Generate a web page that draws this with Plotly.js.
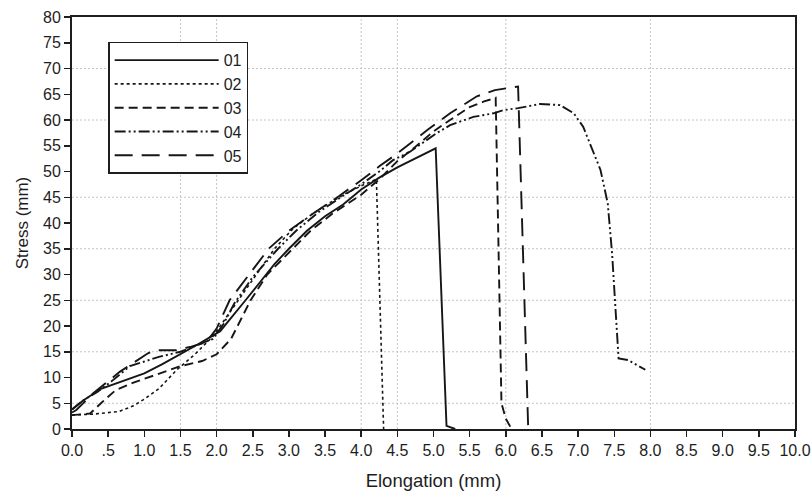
<!DOCTYPE html>
<html>
<head>
<meta charset="utf-8">
<script src="https://cdn.plot.ly/plotly-3.0.1.min.js"></script>
<style>html,body{margin:0;padding:0;background:#fff;}#chart{width:812px;height:503px;}</style>
</head>
<body>
<div id="chart"></div>
<script>
// Series names
const seriesNames = ["01", "02", "03", "04", "05"];

// Elongation (mm) / Stress values
const x01 = [0, 0.15, 0.4, 0.7, 1.0, 1.25, 1.5, 1.75, 2.05, 2.2, 2.4, 2.6, 2.8, 3.0, 3.25, 3.5, 3.75, 4.0, 4.25, 4.5, 4.75, 5.03, 5.18, 5.3];
const y01 = [3.8, 5.5, 7.8, 9.3, 10.8, 12.6, 14.5, 16.5, 19, 21.5, 25, 28.5, 32, 35, 38.5, 41.3, 43.6, 46.5, 48.8, 50.8, 52.6, 54.5, 0.6, 0];

const x02 = [0, 0.3, 0.65, 0.85, 1.0, 1.2, 1.45, 1.7, 1.95, 2.1, 2.3, 2.55, 2.8, 3.05, 3.3, 3.55, 3.8, 4.0, 4.21, 4.31];
const y02 = [2.7, 2.9, 3.4, 4.5, 5.8, 7.8, 11.5, 14.5, 18, 21, 25, 30, 35, 38.8, 41.5, 43.8, 45.8, 47.2, 48.5, 0];

const x03 = [0, 0.25, 0.4, 0.6, 0.85, 1.1, 1.35, 1.5, 1.8, 2.0, 2.2, 2.35, 2.47, 2.7, 3.05, 3.3, 3.6, 4.0, 4.25, 4.5, 4.75, 5.0, 5.25, 5.5, 5.7, 5.86, 5.94, 6.0, 6.08];
const y03 = [2.7, 3.0, 5.0, 7.5, 9.0, 10.2, 11.5, 12.2, 13.2, 14.5, 17.5, 21.5, 25, 30, 35, 38.5, 41.8, 45.5, 48.5, 52, 54.8, 57.8, 60.2, 62.5, 63.6, 64.3, 5, 2, 0];

const x04 = [0, 0.15, 0.35, 0.55, 0.8, 1.2, 1.5, 1.8, 1.95, 2.1, 2.25, 2.5, 2.85, 3.1, 3.4, 3.75, 4.0, 4.25, 4.44, 4.67, 5.05, 5.23, 5.55, 5.83, 5.96, 6.17, 6.47, 6.75, 6.94, 7.07, 7.31, 7.41, 7.47, 7.51, 7.56, 7.69, 7.93];
const y04 = [3.8, 5.5, 7.2, 9.3, 12.2, 14.0, 15.0, 16.7, 17.5, 20.5, 24.5, 29.5, 35, 38.5, 42, 45.3, 47.5, 50, 52.2, 53.8, 57.5, 59, 60.6, 61.3, 61.9, 62.3, 63.1, 62.9, 61.3, 58.7, 50.3, 43.8, 34.1, 25, 13.7, 13.4, 11.5];

const x05 = [0, 0.06, 0.29, 0.66, 1.05, 1.16, 1.44, 1.65, 1.86, 2.0, 2.18, 2.45, 2.72, 3.0, 3.3, 3.69, 4.0, 4.25, 4.5, 4.91, 5.23, 5.6, 5.85, 6.03, 6.17, 6.31];
const y05 = [3.2, 3.7, 6.9, 11.1, 14.7, 15.3, 15.3, 16.0, 16.9, 19.5, 25, 30, 35, 38.5, 41.5, 45.2, 48.3, 51, 53.5, 58, 61.3, 64.6, 65.8, 66.2, 66.5, 0];

// Tick labels
const xTickVals = [0, 0.5, 1, 1.5, 2, 2.5, 3, 3.5, 4, 4.5, 5, 5.5, 6, 6.5, 7, 7.5, 8, 8.5, 9, 9.5, 10];
const xTickText = ["0.0", ".5", "1.0", "1.5", "2.0", "2.5", "3.0", "3.5", "4.0", "4.5", "5.0", "5.5", "6.0", "6.5", "7.0", "7.5", "8.0", "8.5", "9.0", "9.5", "10.0"];
const yTickVals = [0, 5, 10, 15, 20, 25, 30, 35, 40, 45, 50, 55, 60, 65, 70, 75, 80];
// faint grid positions visible in the scan
const xGridVals = [1.5, 2, 4, 4.5, 6, 8];
const yGridVals = [5, 15, 25, 35, 45, 60, 70];

const xs = [x01, x02, x03, x04, x05];
const ys = [y01, y02, y03, y04, y05];
const dashes = ["solid", "dot", "9px,5px", "11px,3px,2px,3px,2px,3px", "18px,9px"];
const widths = [1.9, 1.6, 1.9, 1.9, 1.9];

const traces = seriesNames.map((n, i) => ({
  type: "scatter", mode: "lines", name: n,
  x: xs[i], y: ys[i],
  line: {color: "#161616", width: widths[i], dash: dashes[i]}
}));

const shapes = [];
xGridVals.forEach(v => shapes.push({
  type: "line", xref: "x", yref: "paper", x0: v, x1: v, y0: 0, y1: 1, layer: "below",
  line: {color: "#c4c4c4", width: 1, dash: "2px,2px"}
}));
yGridVals.forEach(v => shapes.push({
  type: "line", xref: "paper", yref: "y", x0: 0, x1: 1, y0: v, y1: v, layer: "below",
  line: {color: "#c4c4c4", width: 1, dash: "2px,2px"}
}));

const font = "Liberation Sans, Arial, sans-serif";
const ink = "#1e1e1e";
const layout = {
  width: 812, height: 503,
  margin: {l: 72, r: 17, t: 17, b: 74},
  paper_bgcolor: "#ffffff", plot_bgcolor: "#ffffff",
  font: {family: font, color: ink, size: 15},
  showlegend: true,
  shapes: shapes,
  legend: {
    x: 0.05, y: 0.94, xanchor: "left", yanchor: "top",
    bgcolor: "#ffffff", bordercolor: ink, borderwidth: 1.5,
    font: {family: font, size: 16, color: ink},
    itemwidth: 104
  },
  xaxis: {
    range: [0, 10], tickmode: "array", tickvals: xTickVals, ticktext: xTickText,
    showgrid: false, zeroline: false,
    showline: true, linecolor: ink, linewidth: 2, mirror: true,
    ticks: "outside", ticklen: 6, tickwidth: 1.5, tickcolor: ink,
    tickfont: {family: font, size: 16, color: ink},
    title: {text: "Elongation (mm)", font: {family: font, size: 18.5, color: ink}, standoff: 16}
  },
  yaxis: {
    range: [0, 80], tickmode: "array", tickvals: yTickVals,
    showgrid: false, zeroline: false,
    showline: true, linecolor: ink, linewidth: 2, mirror: true,
    ticks: "outside", ticklen: 6, tickwidth: 1.5, tickcolor: ink,
    tickfont: {family: font, size: 16, color: ink},
    title: {text: "Stress (mm)", font: {family: font, size: 17, color: ink}, standoff: 10}
  }
};

Plotly.newPlot("chart", traces, layout, {displayModeBar: false, staticPlot: true});
</script>
</body>
</html>
